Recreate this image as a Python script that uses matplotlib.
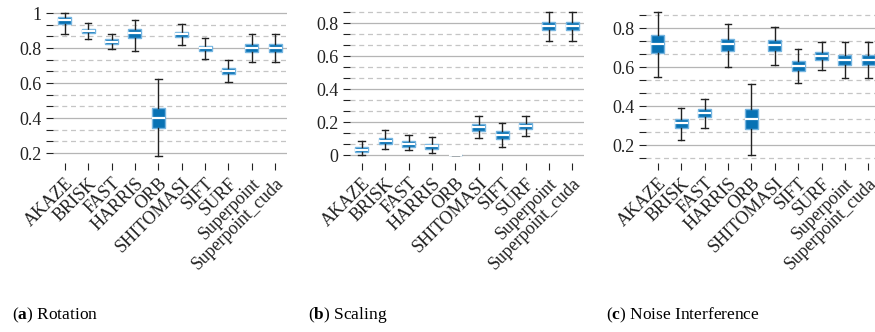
import matplotlib
matplotlib.use("Agg")
from matplotlib import pyplot as plt
import numpy as np

detectors = ["AKAZE", "BRISK", "FAST", "HARRIS", "ORB", "SHITOMASI",
             "SIFT", "SURF", "Superpoint", "Superpoint_cuda"]

# (a) Rotation
rot_lo = [0.878, 0.851, 0.792, 0.785, 0.183, 0.817, 0.739, 0.606, 0.720, 0.720]
rot_q1 = [0.937, 0.884, 0.823, 0.855, 0.345, 0.863, 0.781, 0.651, 0.775, 0.775]
rot_med = [0.960, 0.899, 0.836, 0.886, 0.400, 0.880, 0.798, 0.670, 0.798, 0.798]
rot_q3 = [0.979, 0.910, 0.850, 0.907, 0.455, 0.893, 0.813, 0.687, 0.821, 0.821]
rot_hi = [1.000, 0.941, 0.880, 0.960, 0.621, 0.935, 0.859, 0.730, 0.878, 0.878]

# (b) Scaling
sca_lo = [0.002, 0.038, 0.030, 0.014, 0.0, 0.103, 0.050, 0.115, 0.695, 0.695]
sca_q1 = [0.018, 0.067, 0.048, 0.040, 0.0, 0.149, 0.101, 0.158, 0.758, 0.758]
sca_med = [0.034, 0.087, 0.067, 0.056, 0.0, 0.170, 0.123, 0.178, 0.782, 0.782]
sca_q3 = [0.050, 0.105, 0.085, 0.070, 0.0, 0.190, 0.145, 0.198, 0.806, 0.806]
sca_hi = [0.089, 0.153, 0.123, 0.109, 0.0, 0.236, 0.198, 0.236, 0.868, 0.868]

# (c) Noise Interference
noi_lo = [0.552, 0.227, 0.287, 0.603, 0.149, 0.613, 0.519, 0.585, 0.544, 0.544]
noi_q1 = [0.675, 0.287, 0.344, 0.682, 0.284, 0.685, 0.583, 0.636, 0.612, 0.612]
noi_med = [0.721, 0.313, 0.364, 0.720, 0.336, 0.716, 0.607, 0.658, 0.639, 0.639]
noi_q3 = [0.764, 0.335, 0.388, 0.744, 0.385, 0.738, 0.631, 0.677, 0.665, 0.665]
noi_hi = [0.885, 0.393, 0.439, 0.822, 0.513, 0.808, 0.694, 0.731, 0.731, 0.731]

plt.rcParams["font.family"] = ["Liberation Serif", "DejaVu Serif"]
plt.rcParams["mathtext.fontset"] = "custom"
plt.rcParams["mathtext.rm"] = "Liberation Serif"
plt.rcParams["mathtext.bf"] = "Liberation Serif:bold"

BOX_FILL = "#0872b4"
BOX_EDGE = "#74b4e0"


def make_stats(lo, q1, med, q3, hi):
    return [dict(whislo=a, q1=b, med=c, q3=d, whishi=e, fliers=[], label=n)
            for a, b, c, d, e, n in zip(lo, q1, med, q3, hi, detectors)]


def draw_panel(ax, stats, ylim):
    ax.bxp(stats, positions=np.arange(len(stats)), widths=0.56,
           patch_artist=True, showfliers=False,
           boxprops=dict(facecolor=BOX_FILL, edgecolor=BOX_EDGE, linewidth=1.0),
           medianprops=dict(color="white", linewidth=1.6),
           whiskerprops=dict(color="#222222", linewidth=1.0),
           capprops=dict(color="#222222", linewidth=1.0))
    ax.set_xlim(-0.5, 9.5)
    ax.set_ylim(*ylim)
    ax.yaxis.set_major_locator(plt.MultipleLocator(0.2))
    ax.yaxis.set_minor_locator(plt.MultipleLocator(0.2 / 3))
    ax.grid(which="major", axis="y", color="#b5b5b5", linewidth=0.9)
    ax.grid(which="minor", axis="y", color="#c5c5c5", linewidth=0.9,
            linestyle=(0, (4, 3)))
    ax.set_axisbelow(True)
    for sp in ax.spines.values():
        sp.set_visible(False)
    ax.tick_params(axis="both", which="both", length=5, width=0.8,
                   color="#222222", labelsize=13, labelcolor="#222222")
    ax.set_xticks(np.arange(len(detectors)))
    ax.set_xticklabels(detectors, rotation=45, ha="right",
                       rotation_mode="anchor")
    ax.yaxis.set_major_formatter(plt.FuncFormatter(
        lambda v, p: "0" if abs(v) < 1e-9 else ("1" if abs(v - 1) < 1e-9 else f"{v:.1f}")))


fig = plt.figure(figsize=(8.75, 3.32), dpi=100)
W, H = 875, 332
bottom = 1 - 163 / H
height = 155 / H
width = 234 / W

ax_a = fig.add_axes([53 / W, bottom, width, height])
ax_b = fig.add_axes([350 / W, bottom, width, height])
ax_c = fig.add_axes([646 / W, bottom, width, height])

draw_panel(ax_a, make_stats(rot_lo, rot_q1, rot_med, rot_q3, rot_hi), (0.143, 1.029))
draw_panel(ax_b, make_stats(sca_lo, sca_q1, sca_med, sca_q3, sca_hi), (-0.047, 0.893))
draw_panel(ax_c, make_stats(noi_lo, noi_q1, noi_med, noi_q3, noi_hi), (0.109, 0.904))

cap_y = 1 - 315 / H
fig.text(12 / W, cap_y, r"$(\mathbf{a})$ Rotation", fontsize=12.5, va="center")
fig.text(308 / W, cap_y, r"$(\mathbf{b})$ Scaling", fontsize=12.5, va="center")
fig.text(606 / W, cap_y, r"$(\mathbf{c})$ Noise Interference", fontsize=12.5, va="center")

fig.savefig("out.png", dpi=100)
